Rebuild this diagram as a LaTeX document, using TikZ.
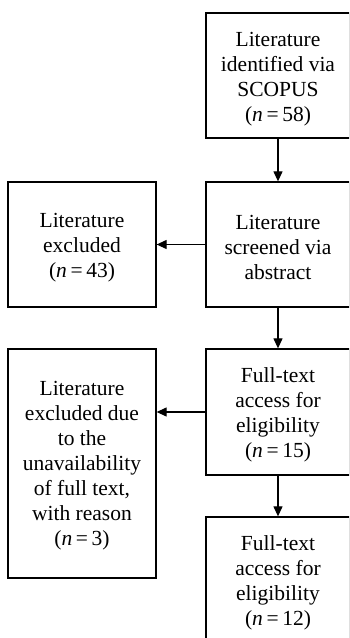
\documentclass[tikz,border=0pt]{standalone}
\usepackage{fontspec}
\setmainfont{Liberation Serif}
\usetikzlibrary{arrows.meta}
\tikzset{
  stagebox/.style={draw=black, line width=1.3pt, inner sep=0pt},
  stagetext/.style={align=center, inner sep=0pt,
    font=\fontsize{21.5pt}{25pt}\selectfont},
  flowarrow/.style={line width=1.2pt, -{Triangle[length=10pt,width=9pt]}}
}
\newcommand{\nval}[1]{(\textit{n}\,=\,#1)}
\begin{document}
\begin{tikzpicture}[x=1pt,y=-1pt]
\useasboundingbox (0,0) rectangle (349,638);
\clip (0,0) rectangle (349,638);
\node[stagebox, minimum width=144pt, minimum height=125pt] (ident) at (278,75.5) {};
\node[stagetext] (identT) at ([yshift=-4pt]ident.center)
  {Literature\\identified via\\SCOPUS\\(\textit{n}\,=\,58)};
\node[stagebox, minimum width=148pt, minimum height=125pt] (excl1) at (82,244.5) {};
\node[stagetext] (excl1T) at ([yshift=-3pt]excl1.center)
  {Literature\\excluded\\\nval{43}};
\node[stagebox, minimum width=144pt, minimum height=125pt] (screen) at (278,244.5) {};
\node[stagetext] (screenT) at ([yshift=-3pt]screen.center)
  {Literature\\screened via\\abstract};
\node[stagebox, minimum width=148pt, minimum height=229pt] (excl2) at (82,463.5) {};
\node[stagetext] (excl2T) at ([yshift=-2pt]excl2.center)
  {Literature\\excluded due\\to the\\unavailability\\of full text,\\with reason\\\nval{3}};
\node[stagebox, minimum width=144pt, minimum height=126pt] (full1) at (278,412) {};
\node[stagetext] (full1T) at ([yshift=-3pt]full1.center)
  {Full-text\\access for\\eligibility\\\nval{15}};
\node[stagebox, minimum width=144pt, minimum height=130pt] (full2) at (278,582) {};
\node[stagetext] (full2T) at ([yshift=-1pt]full2.center)
  {Full-text\\access for\\eligibility\\\nval{12}};
\draw[flowarrow] (ident.south) -- (screen.north);
\draw[flowarrow] (screen.west) -- (excl1.east);
\draw[flowarrow] (screen.south) -- (full1.north);
\draw[flowarrow] (full1.west) -- (full1.west -| excl2.east);
\draw[flowarrow] (full1.south) -- (full2.north);
\end{tikzpicture}
\end{document}
